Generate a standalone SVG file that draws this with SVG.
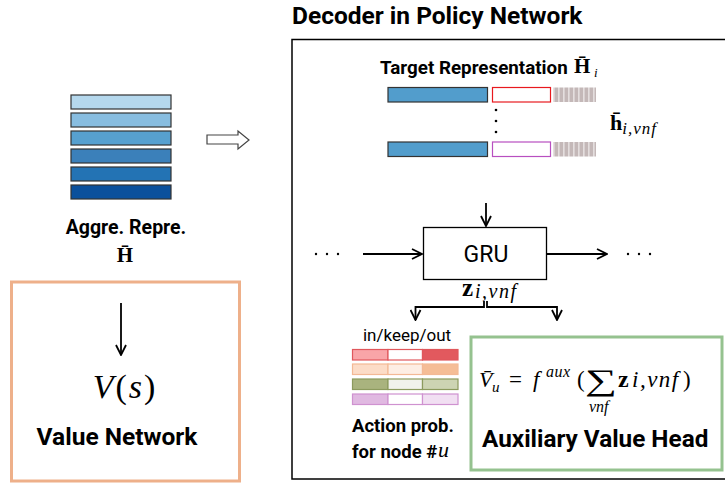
<svg xmlns="http://www.w3.org/2000/svg" width="725" height="485" viewBox="0 0 725 485">
<defs>
<marker id="ah" viewBox="0 0 12 12" refX="11" refY="6" markerWidth="12" markerHeight="12" markerUnits="userSpaceOnUse" orient="auto">
<polyline points="1,1 11,6 1,11" fill="none" stroke="#000" stroke-width="1.8"/>
</marker>
<pattern id="hatch" width="5" height="20" patternUnits="userSpaceOnUse">
<rect width="5" height="20" fill="#c4b8b8"/>
<rect x="3.2" width="1.3" height="20" fill="#ece8e8"/>
</pattern>
<style>
.lbl{font-family:Roboto,"Liberation Sans",sans-serif;fill:#000}
.b{font-weight:bold}
.m{font-family:"Liberation Serif","DejaVu Serif",serif;fill:#000}
.it{font-style:italic}
.bar{stroke:#333;stroke-width:1.2}
.conn{fill:none;stroke:#000;stroke-width:1.8}
.dot{fill:#000}
</style>
</defs>

<g id="aggregated-representation">
<rect class="bar" x="71" y="95" width="100" height="14" fill="#b5d8ed"/>
<rect class="bar" x="71" y="113" width="100" height="14" fill="#88bde0"/>
<rect class="bar" x="71" y="131" width="100" height="14" fill="#57a0cf"/>
<rect class="bar" x="71" y="149" width="100" height="14" fill="#3b80ba"/>
<rect class="bar" x="71" y="167" width="100" height="14" fill="#2373b4"/>
<rect class="bar" x="71" y="185" width="100" height="14" fill="#0b509c"/>
<text class="lbl b" x="126" y="234" font-size="19.5" text-anchor="middle">Aggre. Repre.</text>
<text class="m b" x="125" y="262" font-size="21" text-anchor="middle">H̄</text>
</g>

<g id="hollow-arrow">
<polygon points="207,135 238,135 238,131 249,140 238,149 238,144 207,144" fill="#fff" stroke="#444" stroke-width="1.2"/>
</g>

<g id="value-network">
<rect x="11.5" y="282" width="228" height="199" fill="#fff" stroke="#eeb08a" stroke-width="3"/>
<text class="m it" x="125" y="398" font-size="34" letter-spacing="2" text-anchor="middle">V<tspan font-style="normal">(</tspan>s<tspan font-style="normal">)</tspan></text>
<text class="lbl b" x="117" y="445" font-size="24.5" text-anchor="middle">Value Network</text>
</g>

<g id="decoder">
<text class="lbl b" x="292" y="24" font-size="24.5">Decoder in Policy Network</text>
<rect x="292" y="39.5" width="440" height="439.5" fill="#fff" stroke="#000" stroke-width="1.5"/>
</g>

<g id="target-representation">
<text class="lbl b" x="380" y="74" font-size="18.8">Target Representation</text>
<text class="m b" x="574" y="73" font-size="21">H̄</text>
<text class="m it" x="594" y="77" font-size="13">i</text>
<rect class="bar" x="388" y="87.5" width="99.5" height="14.5" fill="#529dcc"/>
<rect x="492.5" y="87.5" width="58" height="14.5" fill="#fff" stroke="#e8191e" stroke-width="1.2"/>
<rect x="553" y="87.5" width="43" height="14.5" fill="url(#hatch)"/>
<circle class="dot" cx="496" cy="110" r="1.3"/>
<circle class="dot" cx="496" cy="121" r="1.3"/>
<circle class="dot" cx="496" cy="132" r="1.3"/>
<rect class="bar" x="388" y="142" width="99.5" height="14.5" fill="#529dcc"/>
<rect x="492.5" y="142" width="58" height="14.5" fill="#fff" stroke="#b84fc0" stroke-width="1.2"/>
<rect x="553" y="142" width="43" height="14.5" fill="url(#hatch)"/>
<text class="m b" x="610" y="130" font-size="22">h̄<tspan class="it" font-weight="normal" font-size="17" letter-spacing="1" dy="4">i,vnf</tspan></text>
</g>

<g id="gru">
<rect x="423.5" y="227.5" width="123" height="52" fill="#fff" stroke="#000" stroke-width="1.3"/>
<text class="lbl" x="486" y="262" font-size="23" text-anchor="middle">GRU</text>
</g>

<g id="prev-dots">
<circle class="dot" cx="316" cy="254" r="1.2"/>
<circle class="dot" cx="327" cy="254" r="1.2"/>
<circle class="dot" cx="338" cy="254" r="1.2"/>
</g>
<g id="next-dots">
<circle class="dot" cx="628" cy="254" r="1.2"/>
<circle class="dot" cx="639" cy="254" r="1.2"/>
<circle class="dot" cx="650" cy="254" r="1.2"/>
</g>

<g id="z-label">
<text class="m b" x="462" y="296" font-size="25">z</text>
<text class="m it" x="475" y="298" font-size="20" letter-spacing="1.5">i,vnf</text>
</g>

<g id="connectors">
<line class="conn" x1="486" y1="203" x2="486" y2="226" marker-end="url(#ah)"/>
<line class="conn" x1="363" y1="254" x2="422" y2="254" marker-end="url(#ah)"/>
<line class="conn" x1="547" y1="254" x2="607" y2="254" marker-end="url(#ah)"/>
<path class="conn" d="M484,301 V307 H415.5 V320" marker-end="url(#ah)"/>
<path class="conn" d="M487,301 V307 H557 V320" marker-end="url(#ah)"/>
<line class="conn" x1="121" y1="303" x2="121" y2="355" marker-end="url(#ah)"/>
</g>

<g id="action-probabilities">
<text class="lbl" x="407" y="341" font-size="17" text-anchor="middle">in/keep/out</text>
<g stroke-width="1.2">
<rect x="352.5" y="349.5" width="35.5" height="10.5" fill="#f9a5a8" stroke="#e0575c"/>
<rect x="388" y="349.5" width="34.5" height="10.5" fill="#fff" stroke="#e0575c"/>
<rect x="422.5" y="349.5" width="35.5" height="10.5" fill="#e2595e" stroke="#e0575c"/>
<rect x="352.5" y="364" width="35.5" height="10.5" fill="#fcdcc7" stroke="#f3b995"/>
<rect x="388" y="364" width="34.5" height="10.5" fill="#fdeee4" stroke="#f3b995"/>
<rect x="422.5" y="364" width="35.5" height="10.5" fill="#f5bd96" stroke="#f3b995"/>
<rect x="352.5" y="379" width="35.5" height="10.5" fill="#a9b37e" stroke="#8c9a5e"/>
<rect x="388" y="379" width="34.5" height="10.5" fill="#f1f2ec" stroke="#8c9a5e"/>
<rect x="422.5" y="379" width="35.5" height="10.5" fill="#cdd4b3" stroke="#8c9a5e"/>
<rect x="352.5" y="394" width="35.5" height="10.5" fill="#e0b9e1" stroke="#cf92d0"/>
<rect x="388" y="394" width="34.5" height="10.5" fill="#fff" stroke="#cf92d0"/>
<rect x="422.5" y="394" width="35.5" height="10.5" fill="#f1dff2" stroke="#cf92d0"/>
</g>
<text class="lbl b" x="352" y="432" font-size="18.5">Action prob.</text>
<text class="lbl b" x="352" y="458" font-size="18.5">for node #</text>
<text class="m it" x="438" y="457" font-size="22">u</text>
</g>

<g id="auxiliary-value-head">
<rect x="471" y="337" width="251" height="133" fill="#fff" stroke="#95c28f" stroke-width="3"/>
<text class="m it" x="479" y="387" font-size="22">V̄</text>
<text class="m it" x="492" y="392" font-size="15">u</text>
<text class="m" x="509" y="387" font-size="23">=</text>
<text class="m it" x="533" y="387" font-size="23">f</text>
<text class="m it" x="546" y="377" font-size="16" letter-spacing="0.5">aux</text>
<text class="m" x="577" y="387" font-size="23">(</text>
<text class="m" x="0" y="0" font-size="30" transform="translate(585,390) scale(1.5,1)">∑</text>
<text class="m it" x="589" y="412" font-size="16">vnf</text>
<text class="m b" x="618" y="387" font-size="24">z</text>
<text class="m it" x="632" y="387" font-size="23" letter-spacing="1.5">i,vnf</text>
<text class="m" x="683" y="387" font-size="23">)</text>
<text class="lbl b" x="482" y="447" font-size="24.3">Auxiliary Value Head</text>
</g>
</svg>
